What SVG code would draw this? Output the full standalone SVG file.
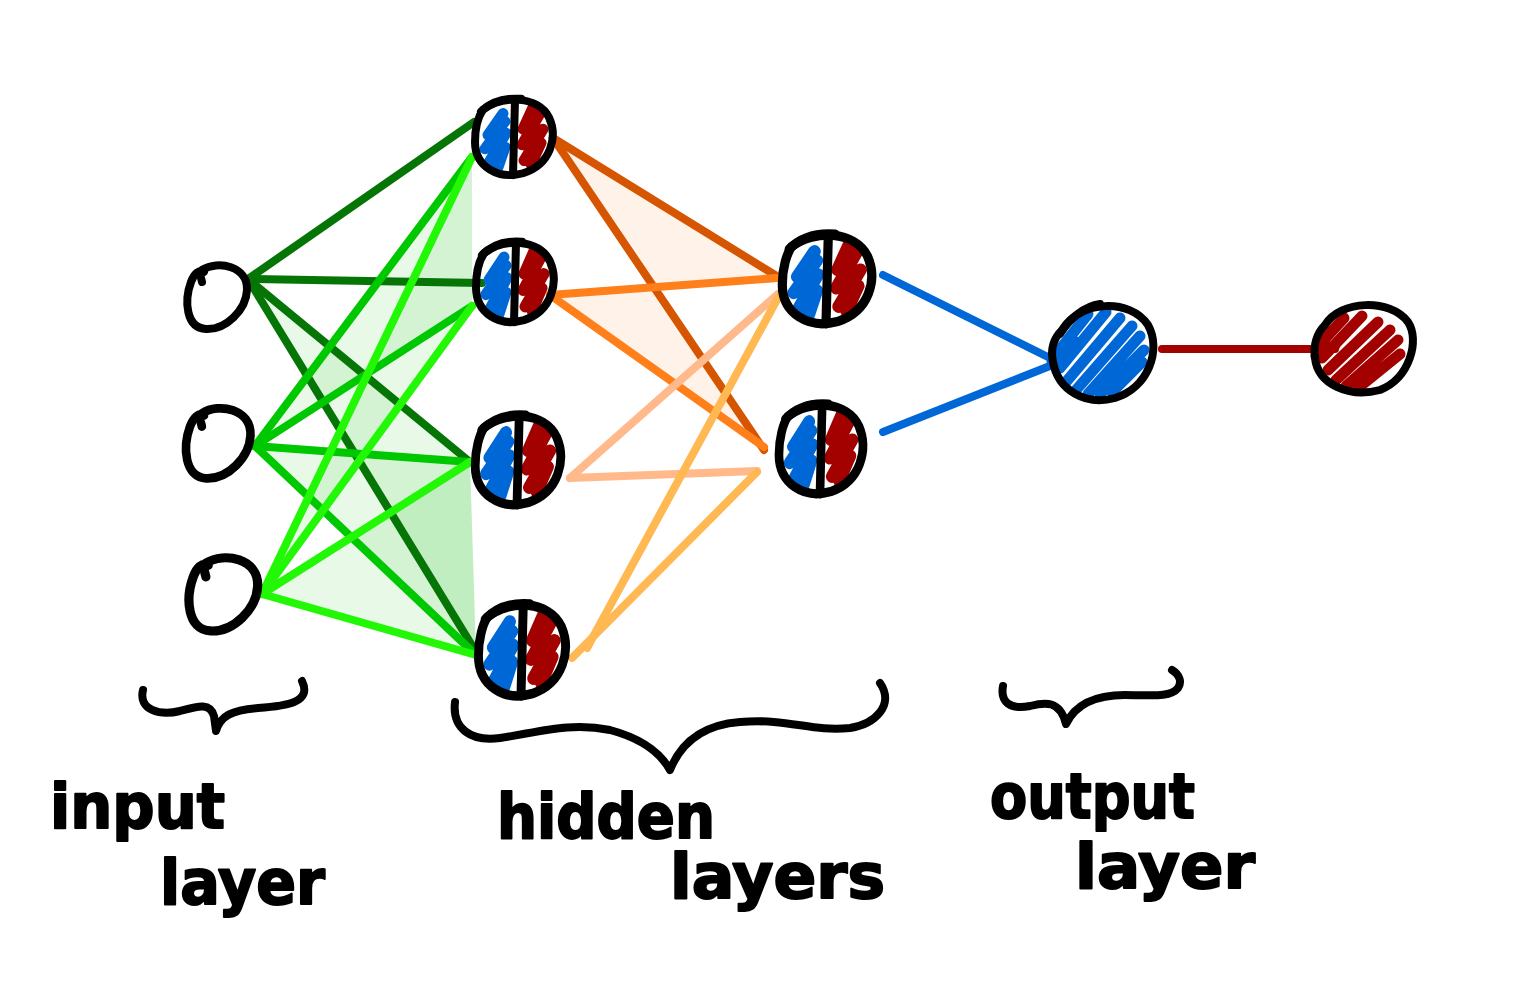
<svg xmlns="http://www.w3.org/2000/svg" xmlns:xlink="http://www.w3.org/1999/xlink" width="1518" height="1000" viewBox="0 0 1518 1000">
  <style>
    .ink { fill: none; stroke: #000; stroke-width: 8; stroke-linecap: round; stroke-linejoin: round; }
    .edge { fill: none; stroke-width: 8; stroke-linecap: round; }
    .g1 { stroke: #057505; }
    .g2 { stroke: #00c800; }
    .g3 { stroke: #22f805; }
    .o1 { stroke: #d65500; }
    .o2 { stroke: #ff7f1a; }
    .o3 { stroke: #ffb98a; }
    .o4 { stroke: #ffb852; }
    .bl { stroke: #0068d6; }
    .rd { stroke: #a30000; }
    .gfill { fill: #2ecc2e; fill-opacity: 0.11; stroke: none; }
    .ofill { fill: #ff9a4d; fill-opacity: 0.13; stroke: none; }
    .scrB { fill: none; stroke: #0068d6; stroke-width: 11; stroke-linecap: round; stroke-linejoin: round; }
    .scrR { fill: none; stroke: #a30000; stroke-width: 11; stroke-linecap: round; stroke-linejoin: round; }
    .label { font-family: "DejaVu Sans", "Liberation Sans", sans-serif; font-weight: bold; font-size: 62px; fill: #000; stroke: #000; stroke-width: 2; stroke-linejoin: round; }
  </style>
  <defs>
    <!-- hollow input neuron -->
    <g id="inode">
      <path class="ink" d="M-14,-26 C2,-36 32,-30 31,-6 C30,14 10,34 -10,33 C-30,32 -32,5 -25,-14 C-22,-22 -17,-27 -12,-24"/>
      <path class="ink" d="M-15,-18 L-14,-14"/>
    </g>
    <!-- hidden neuron: split circle, blue half and red half -->
    <g id="hnode">
      <path class="scrB" d="M-10,-24 L-25,-2 L-8,-16 L-28,12 L-7,-4 L-24,26 L-8,10 L-15,31"/>
      <path class="scrR" d="M20,-30 L10,-8 L27,-24 L9,8 L30,-8 L11,24 L28,6 L18,28"/>
      <path class="ink" d="M-30,-28 C-10,-43 25,-42 36,-20 C45,0 38,28 10,37 C-15,44 -38,30 -38,5 C-38,-10 -34,-22 -30,-28 Z"/>
      <path class="ink" d="M-32,-26 C-20,-38 -5,-40 8,-39"/>
      <path class="ink" d="M2,-38 L0,39"/>
    </g>
  </defs>

  <rect width="1518" height="1000" fill="#fff"/>

  <!-- shaded weight fans -->
  <g id="fans">
    <polygon class="gfill" points="248,279 470,462 476,652"/>
    <polygon class="gfill" points="255,446 472,157 472,306"/>
    <polygon class="gfill" points="255,446 470,462 476,655"/>
    <polygon class="gfill" points="262,594 472,157 472,306"/>
    <polygon class="gfill" points="262,594 470,462 476,655"/>
    <polygon class="ofill" points="553,138 775,275 550,295 764,450"/>
  </g>

  <!-- connectors -->
  <g id="connectors">
    <line class="edge g1" x1="248" y1="279" x2="474" y2="122"/>
    <line class="edge g1" x1="248" y1="279" x2="482" y2="283"/>
    <line class="edge g1" x1="248" y1="279" x2="470" y2="462"/>
    <line class="edge g1" x1="248" y1="279" x2="476" y2="652"/>

    <line class="edge g2" x1="255" y1="446" x2="472" y2="157"/>
    <line class="edge g2" x1="255" y1="446" x2="472" y2="306"/>
    <line class="edge g2" x1="255" y1="446" x2="470" y2="462"/>
    <line class="edge g2" x1="255" y1="446" x2="476" y2="655"/>

    <line class="edge g3" x1="262" y1="594" x2="472" y2="157"/>
    <line class="edge g3" x1="262" y1="594" x2="472" y2="306"/>
    <line class="edge g3" x1="262" y1="594" x2="470" y2="462"/>
    <line class="edge g3" x1="262" y1="594" x2="476" y2="655"/>

    <line class="edge o1" x1="553" y1="138" x2="775" y2="275"/>
    <line class="edge o1" x1="553" y1="138" x2="764" y2="450"/>
    <line class="edge o2" x1="550" y1="295" x2="777" y2="278"/>
    <line class="edge o2" x1="550" y1="295" x2="764" y2="447"/>
    <line class="edge o3" x1="570" y1="478" x2="778" y2="294"/>
    <line class="edge o3" x1="570" y1="478" x2="757" y2="471"/>
    <line class="edge o4" x1="572" y1="658" x2="757" y2="472"/>
    <line class="edge o4" x1="587" y1="648" x2="779" y2="296"/>

    <line class="edge bl" x1="883" y1="275" x2="1058" y2="362"/>
    <line class="edge bl" x1="883" y1="432" x2="1060" y2="362"/>

    <line class="edge rd" x1="1162" y1="349" x2="1335" y2="349"/>
  </g>

  <!-- input layer -->
  <g id="in1"><use xlink:href="#inode" transform="translate(216,296)"/></g>
  <g id="in2"><use xlink:href="#inode" transform="translate(217,442) scale(1.08,1.1)"/></g>
  <g id="in3"><use xlink:href="#inode" transform="translate(222,593) scale(1.15,1.15)"/></g>

  <!-- hidden layer 1 -->
  <g id="h1a"><use xlink:href="#hnode" transform="translate(513,137) scale(1.0,0.98)"/></g>
  <g id="h1b"><use xlink:href="#hnode" transform="translate(514,282) scale(1.0,1.03)"/></g>
  <g id="h1c"><use xlink:href="#hnode" transform="translate(517,460) scale(1.1,1.15)"/></g>
  <g id="h1d"><use xlink:href="#hnode" transform="translate(521,650) scale(1.12,1.18)"/></g>

  <!-- hidden layer 2 -->
  <g id="h2a"><use xlink:href="#hnode" transform="translate(826,279) scale(1.15,1.15)"/></g>
  <g id="h2b"><use xlink:href="#hnode" transform="translate(820,449) scale(1.08,1.15)"/></g>

  <!-- output neuron (blue) -->
  <g id="out">
    <path class="scrB" d="M1058,352 L1088,314 M1060,368 L1106,312 M1066,382 L1120,318 M1076,390 L1132,326 M1088,394 L1140,336 M1100,394 L1144,350 M1052,362 L1076,342 M1112,392 L1142,362"/>
    <path class="ink" d="M1062,330 C1080,300 1130,298 1148,325 C1162,350 1148,388 1115,398 C1085,406 1058,390 1053,362 C1050,348 1054,338 1062,330 Z"/>
    <path class="ink" d="M1060,334 C1070,318 1085,306 1100,304"/>
  </g>

  <!-- final prediction neuron (red) -->
  <g id="pred">
    <path class="scrR" d="M1320,344 L1344,318 M1322,358 L1362,316 M1328,370 L1378,322 M1336,380 L1390,330 M1346,386 L1398,340 M1358,388 L1400,354 M1316,356 L1335,345"/>
    <path class="ink" d="M1325,325 C1340,300 1390,298 1408,322 C1420,340 1410,378 1380,390 C1350,398 1318,385 1315,358 C1313,345 1317,333 1325,325 Z"/>
  </g>

  <!-- braces -->
  <g id="braces">
    <path class="ink" d="M143,690 C138,710 160,716 180,711 C198,706 210,702 214,716 L216,731 C220,716 232,710 258,708 C288,706 312,702 302,681"/>
    <path class="ink" d="M455,702 C452,728 470,742 500,738 C540,732 570,722 610,730 C640,738 660,752 670,770 C680,745 700,725 740,722 C790,718 810,732 850,728 C875,724 895,705 880,683"/>
    <path class="ink" d="M1003,686 C1000,702 1010,710 1030,706 C1045,702 1060,700 1066,724 C1075,705 1095,695 1125,695 C1150,695 1170,698 1178,688 C1182,682 1180,675 1172,670"/>
  </g>

  <!-- labels -->
  <g id="labels">
    <text class="label" x="50" y="828" textLength="175" lengthAdjust="spacingAndGlyphs">input</text>
    <text class="label" x="160" y="904" textLength="165" lengthAdjust="spacingAndGlyphs">layer</text>
    <text class="label" x="497" y="838" textLength="218" lengthAdjust="spacingAndGlyphs">hidden</text>
    <text class="label" x="670" y="898" textLength="215" lengthAdjust="spacingAndGlyphs">layers</text>
    <text class="label" x="990" y="818" textLength="205" lengthAdjust="spacingAndGlyphs">output</text>
    <text class="label" x="1075" y="888" textLength="180" lengthAdjust="spacingAndGlyphs">layer</text>
  </g>
</svg>
